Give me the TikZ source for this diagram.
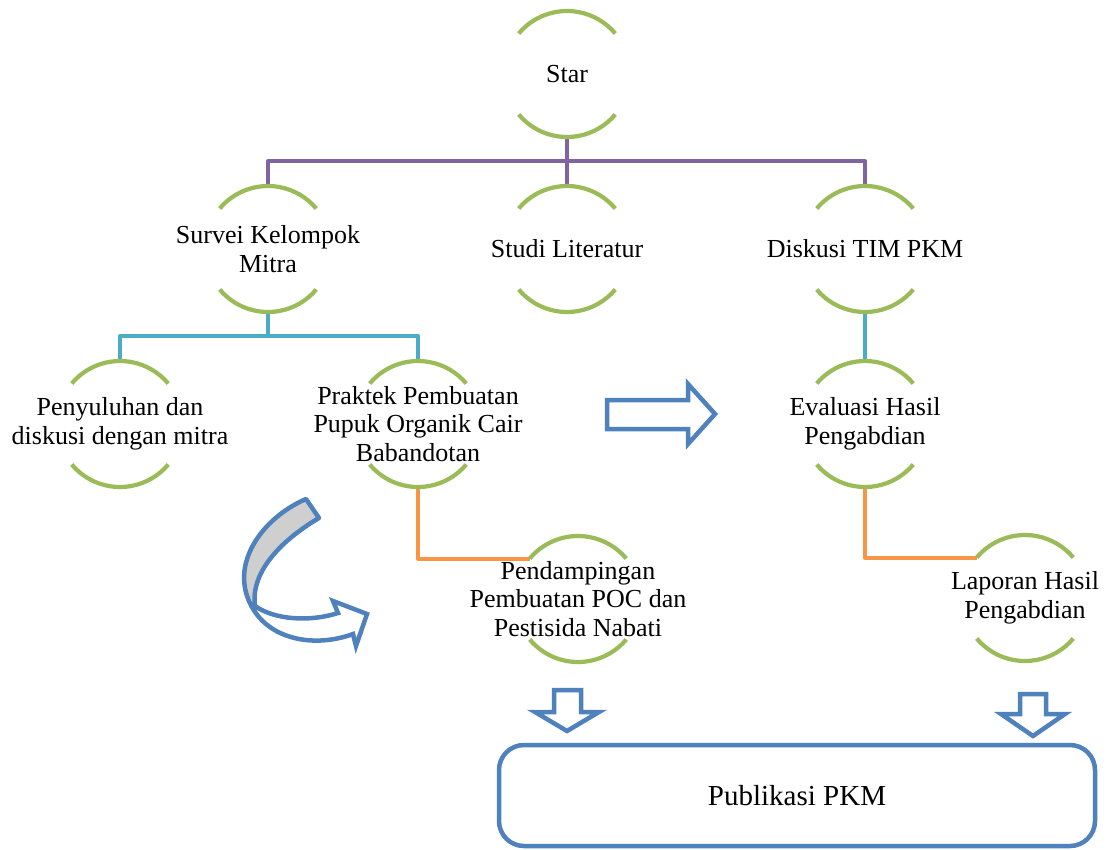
\documentclass[tikz,border=0pt]{standalone}
\usepackage{fontspec}
\setmainfont{Liberation Serif}
\definecolor{ringgreen}{HTML}{9BBB59}
\definecolor{purp}{HTML}{8064A2}
\definecolor{tealc}{HTML}{4BACC6}
\definecolor{orng}{HTML}{F79646}
\definecolor{blu}{HTML}{4F81BD}
\tikzset{
  ring/.style={circle, minimum size=126pt, inner sep=0pt, outer sep=0pt},
  lbl/.style={align=center, font=\fontsize{26}{28.5}\selectfont, inner sep=0pt},
  arcline/.style={draw=ringgreen, line width=4.2pt},
  conn/.style={line width=4pt, line join=round},
  blockarrow/.style={draw=blu, line width=4.5pt, line join=miter, fill=white},
}
\newcommand\ringarcs[1]{%
  \draw[arcline] (#1.140) arc[start angle=140,end angle=40,radius=63pt];
  \draw[arcline] (#1.220) arc[start angle=220,end angle=320,radius=63pt];}
\begin{document}
\begin{tikzpicture}[x=1pt,y=1pt]
\useasboundingbox (0,0) rectangle (1107,-849);
% rings
\node[ring] (star) at (567,-74) {};
\node[ring] (surv) at (268,-249) {};
\node[ring] (stud) at (567,-249) {};
\node[ring] (disk) at (865,-249) {};
\node[ring] (peny) at (120,-424) {};
\node[ring] (prak) at (418,-424) {};
\node[ring] (eval) at (865,-424) {};
\node[ring] (pend) at (578,-599) {};
\node[ring] (lap) at (1025,-598) {};
% connectors
\coordinate (pbus) at (567,-161);
\draw[conn,purp] (star.south) -- (pbus);
\draw[conn,purp] (surv.north) |- (pbus);
\draw[conn,purp] (disk.north) |- (pbus);
\draw[conn,purp] (stud.north) -- (pbus);
\coordinate (tbus) at (268,-336);
\draw[conn,tealc] (surv.south) -- (tbus);
\draw[conn,tealc] (peny.north) |- (tbus);
\draw[conn,tealc] (prak.north) |- (tbus);
\draw[conn,tealc] (disk.south) -- (eval.north);
\draw[conn,orng] (prak.south) |- (pend.140);
\draw[conn,orng] (eval.south) |- (lap.140);
% arcs
\ringarcs{star}\ringarcs{surv}\ringarcs{stud}\ringarcs{disk}
\ringarcs{peny}\ringarcs{prak}\ringarcs{eval}\ringarcs{pend}\ringarcs{lap}
% labels
\node[lbl] (star-t) at (star) {Star};
\node[lbl] (surv-t) at (surv) {Survei Kelompok\\Mitra};
\node[lbl] (stud-t) at (stud) {Studi Literatur};
\node[lbl] (disk-t) at (disk) {Diskusi TIM PKM};
\node[lbl] (peny-t) at (peny) {Penyuluhan dan\\diskusi dengan mitra};
\node[lbl] (prak-t) at (prak) {Praktek Pembuatan\\Pupuk Organik Cair\\Babandotan};
\node[lbl] (eval-t) at (eval) {Evaluasi Hasil\\Pengabdian};
\node[lbl] (pend-t) at (pend) {Pendampingan\\Pembuatan POC dan\\Pestisida Nabati};
\node[lbl] (lap-t) at (lap) {Laporan Hasil\\Pengabdian};
% publication box
\node[draw=blu, line width=4.5pt, rounded corners=25pt, minimum width=596pt,
      minimum height=101pt, inner sep=0pt, font=\fontsize{29}{32}\selectfont]
      (pub) at (797,-795.5) {Publikasi PKM};
% block arrows
\draw[blockarrow] (607,-400) -- (688,-400) -- (688,-384) -- (715,-414)
  -- (688,-444) -- (688,-429) -- (607,-429) -- cycle;
\draw[blockarrow] (554,-690) -- (581,-690) -- (581,-712) -- (599,-712)
  -- (567,-731) -- (535,-712) -- (554,-712) -- cycle;
\draw[blockarrow] (1020,-694) -- (1046,-694) -- (1046,-714) -- (1065,-714)
  -- (1033,-736) -- (1001,-714) -- (1020,-714) -- cycle;
% curved arrow
\draw[draw=blu, line width=4.5pt, fill=black!19, line join=round]
  (306,-499) .. controls (262,-518) and (228,-565) .. (252,-607)
  -- (255,-606) .. controls (250,-570) and (285,-538) .. (319,-518) -- cycle;
\draw[draw=blu, line width=4.5pt, line join=miter]
  (255,-606) .. controls (275,-620) and (310,-622) .. (338,-613)
  -- (333,-601) -- (367,-614) -- (356,-646) -- (353,-634)
  .. controls (315,-648) and (270,-640) .. (252,-607) -- cycle;
\end{tikzpicture}
\end{document}
